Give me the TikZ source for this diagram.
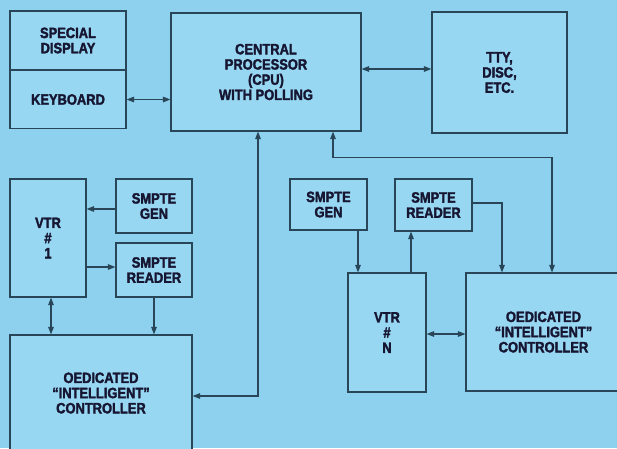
\documentclass[tikz,border=0pt]{standalone}
\usepackage{fontspec}
\newfontfamily\labelfont{Liberation Sans}[UprightFont={* Bold},
  FakeStretch=0.86, FakeBold=2, Ligatures=TeX]
\usetikzlibrary{arrows.meta}
\definecolor{bgc}{RGB}{141,209,239}
\definecolor{boxc}{RGB}{152,215,242}
\definecolor{linec}{RGB}{40,70,88}
\definecolor{txtc}{RGB}{22,22,50}
\begin{document}
\begin{tikzpicture}[x=1pt, y=-1pt,
    box/.style={draw=linec, fill=boxc, line width=1.1pt, align=center,
      inner sep=0pt, text=txtc,
      font={\labelfont\fontsize{15}{15.2}\selectfont}},
    conn/.style={draw=linec, line width=1.1pt,
      >={Triangle[length=7.5pt,width=5.5pt]}}
  ]
  \useasboundingbox (0,0) rectangle (617,448);
  \fill[bgc] (0,0) rectangle (617,448);
  \clip (0,0) rectangle (617,448);

  % Top row: terminal, processor, peripherals
  \node[box, minimum width=116pt, minimum height=59pt] (disp) at (68,40.5)
    {SPECIAL\\DISPLAY};
  \node[box, minimum width=116pt, minimum height=58pt] (kbd) at (68,99.5)
    {KEYBOARD};
  \node[box, minimum width=190pt, minimum height=118pt] (cpu) at (266,72)
    {CENTRAL\\PROCESSOR\\(CPU)\\WITH POLLING};
  \node[box, minimum width=135pt, minimum height=121pt] (tty) at (499.5,72.5)
    {TTY,\\DISC,\\ETC.};
  \draw[conn, <->] (kbd.east) -- (kbd.east -| cpu.west);
  \draw[conn, <->] ([yshift=3pt]cpu.east) -- ([yshift=3pt]cpu.east -| tty.west);

  % Left group: VTR 1
  \node[box, minimum width=76pt, minimum height=118pt] (vtra) at (48,238)
    {VTR\\\#\\1};
  \node[box, minimum width=76pt, minimum height=54pt] (gena) at (154,206)
    {SMPTE\\GEN};
  \node[box, minimum width=76pt, minimum height=54pt] (rdra) at (154,270)
    {SMPTE\\READER};
  \node[box, minimum width=182pt, minimum height=116pt] (ctla) at (101,393)
    {OEDICATED\\“INTELLIGENT”\\CONTROLLER};
  \draw[conn, ->] ([yshift=-3pt]gena.west) -- ([yshift=-3pt]gena.west -| vtra.east);
  \draw[conn, ->] ([yshift=3pt]rdra.west -| vtra.east) -- ([yshift=3pt]rdra.west);
  \draw[conn, <->] ([xshift=3pt]vtra.south) -- ([xshift=3pt]vtra.south |- ctla.north);
  \draw[conn, ->] (rdra.south) -- (rdra.south |- ctla.north);
  \draw[conn, <->] ([xshift=-8pt]cpu.south) |- ([yshift=-3pt]ctla.east);

  % Right group: VTR N
  \node[box, minimum width=77pt, minimum height=51pt] (genb) at (328.5,204.5)
    {SMPTE\\GEN};
  \node[box, minimum width=77pt, minimum height=52pt] (rdrb) at (433.5,205)
    {SMPTE\\READER};
  \node[box, minimum width=78pt, minimum height=119pt] (vtrb) at (387,332.5)
    {VTR\\\#\\N};
  \node[box, minimum width=155pt, minimum height=118pt] (ctlb) at (543.5,332)
    {OEDICATED\\“INTELLIGENT”\\CONTROLLER};
  \draw[conn, ->] ([xshift=29.5pt]genb.south) -- ([xshift=-29pt]vtrb.north);
  \draw[conn, ->] ([xshift=24pt]vtrb.north) -- ([xshift=24pt]vtrb.north |- rdrb.south);
  \draw[conn, ->] ([yshift=2pt]rdrb.east) -| ([xshift=-41.5pt]ctlb.north);
  \draw[conn, <->] ([yshift=-1.5pt]vtrb.east) -- ([yshift=-1.5pt]vtrb.east -| ctlb.west);
  \draw[conn, <->] ([xshift=67pt]cpu.south) -- ++(0,26) -| ([xshift=8.5pt]ctlb.north);
\end{tikzpicture}
\end{document}
